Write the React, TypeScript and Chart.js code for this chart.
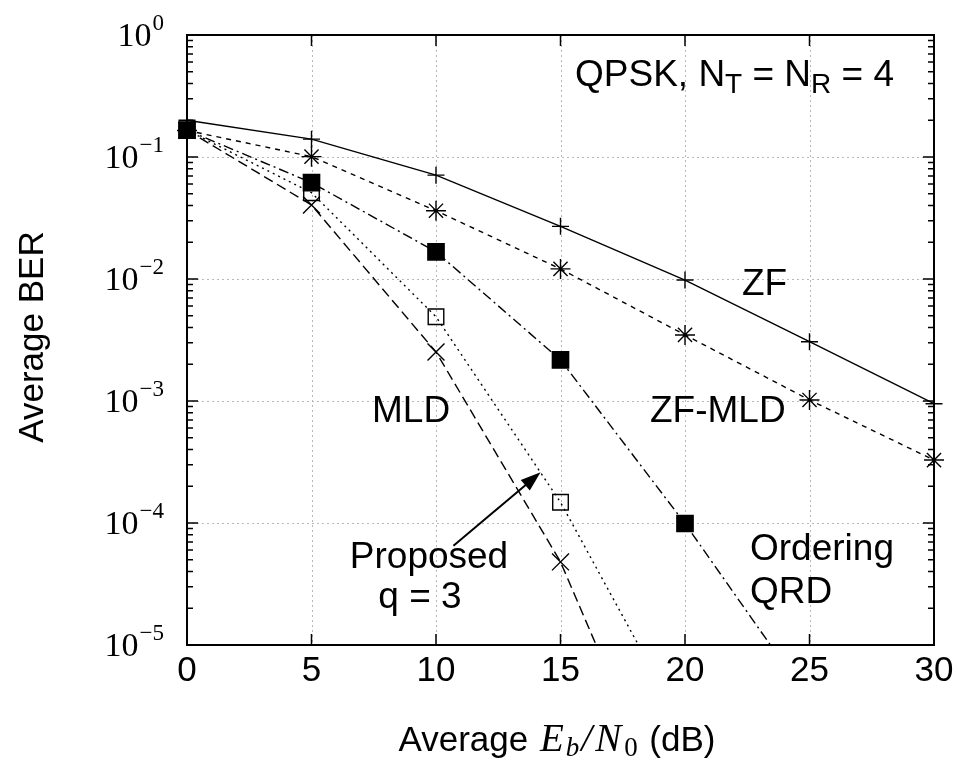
import React, { useEffect, useRef } from "react";
import { Chart, registerables } from "chart.js";

Chart.register(...registerables);

// ---------------- data ----------------
const ebN0 = [0, 5, 10, 15, 20, 25, 30];
const berZF = [0.2, 0.14, 0.071, 0.027, 0.0098, 0.00306, 0.00095];
const berZFMLD = [0.165, 0.1007, 0.0363, 0.0121, 0.00348, 0.00102, 0.000328];
const berOrderingQRD = [0.166, 0.0616, 0.0167, 0.00217, 0.000099, 0.0000035];
const berProposedQ3 = [0.166, 0.051, 0.0049, 0.000148, 0.000002];
const berMLD = [0.166, 0.0404, 0.00252, 0.000048, 0.0000002];

const xTickValues = [0, 5, 10, 15, 20, 25, 30];
const xTickLabels = ["0", "5", "10", "15", "20", "25", "30"];
const yTickExponents = [0, -1, -2, -3, -4, -5];
const yMinorFactors = [2, 3, 4, 5, 6, 7, 8, 9];

const SANS = '"Liberation Sans", Arial, Helvetica, sans-serif';
const SERIF = '"Liberation Serif", "Times New Roman", serif';

function toPoints(vals: number[]) {
  return vals.map((v, i) => ({ x: ebN0[i], y: v }));
}

const gnuplotPlugin = {
  id: "gnuplotFrame",
  beforeDatasetsDraw(chart: any) {
    const { ctx, chartArea: a, scales } = chart;
    const x = scales.x;
    const y = scales.y;
    ctx.save();
    // dotted grid
    ctx.strokeStyle = "#b8b8b8";
    ctx.lineWidth = 1;
    ctx.setLineDash([2, 3]);
    ctx.beginPath();
    for (const t of xTickValues) {
      if (t <= x.min || t >= x.max) continue;
      const px = Math.round(x.getPixelForValue(t)) + 0.5;
      ctx.moveTo(px, a.top);
      ctx.lineTo(px, a.bottom);
    }
    for (const e of yTickExponents) {
      const v = Math.pow(10, e);
      if (v <= y.min * 1.001 || v >= y.max * 0.999) continue;
      const py = Math.round(y.getPixelForValue(v)) + 0.5;
      ctx.moveTo(a.left, py);
      ctx.lineTo(a.right, py);
    }
    ctx.stroke();
    ctx.setLineDash([]);

    // ticks (inward, mirrored)
    ctx.strokeStyle = "#000";
    ctx.lineWidth = 1.5;
    ctx.beginPath();
    for (const t of xTickValues) {
      const px = x.getPixelForValue(t);
      ctx.moveTo(px, a.bottom);
      ctx.lineTo(px, a.bottom - 11);
      ctx.moveTo(px, a.top);
      ctx.lineTo(px, a.top + 11);
    }
    for (const e of yTickExponents) {
      const py = y.getPixelForValue(Math.pow(10, e));
      ctx.moveTo(a.left, py);
      ctx.lineTo(a.left + 11, py);
      ctx.moveTo(a.right, py);
      ctx.lineTo(a.right - 11, py);
      if (e === yTickExponents[yTickExponents.length - 1]) continue;
      for (const m of yMinorFactors) {
        const v = m * Math.pow(10, e - 1);
        const pm = y.getPixelForValue(v);
        ctx.moveTo(a.left, pm);
        ctx.lineTo(a.left + 6, pm);
        ctx.moveTo(a.right, pm);
        ctx.lineTo(a.right - 6, pm);
      }
    }
    ctx.stroke();

    // frame
    ctx.lineWidth = 2;
    ctx.strokeRect(a.left, a.top, a.right - a.left, a.bottom - a.top);
    ctx.restore();
  },
  afterDraw(chart: any) {
    const { ctx, chartArea: a, scales } = chart;
    const x = scales.x;
    const y = scales.y;
    ctx.save();
    ctx.fillStyle = "#000";
    ctx.textBaseline = "alphabetic";

    // y tick labels 10^n
    for (const e of yTickExponents) {
      const py = y.getPixelForValue(Math.pow(10, e));
      const base = "10";
      const sup = e === 0 ? "0" : "\u2212" + String(-e);
      ctx.font = `34px ${SERIF}`;
      const wb = ctx.measureText(base).width;
      ctx.font = `23px ${SERIF}`;
      const ws = ctx.measureText(sup).width;
      const right = a.left - 23;
      const start = right - wb - ws - 1;
      ctx.textAlign = "left";
      ctx.font = `34px ${SERIF}`;
      ctx.fillText(base, start, py + 11);
      ctx.font = `23px ${SERIF}`;
      ctx.fillText(sup, start + wb + 1, py - 5);
    }

    // x tick labels
    ctx.font = `35px ${SANS}`;
    ctx.textAlign = "center";
    xTickValues.forEach((t, i) => {
      ctx.fillText(xTickLabels[i], x.getPixelForValue(t), a.bottom + 36);
    });

    // y axis title
    ctx.save();
    ctx.translate(43, 337);
    ctx.rotate(-Math.PI / 2);
    ctx.font = `35px ${SANS}`;
    ctx.textAlign = "center";
    ctx.fillText("Average BER", 0, 0);
    ctx.restore();

    // x axis title with math
    const pieces = [
      { t: "Average ", f: `35px ${SANS}`, dy: 0, gap: 2 },
      { t: "E", f: `italic 39px ${SERIF}`, dy: 0, gap: 2 },
      { t: "b", f: `italic 27px ${SERIF}`, dy: 5, gap: 2 },
      { t: "/", f: `italic 39px ${SERIF}`, dy: 0, gap: 3 },
      { t: "N", f: `italic 39px ${SERIF}`, dy: 0, gap: 3 },
      { t: "0", f: `27px ${SERIF}`, dy: 5, gap: 2 },
      { t: " (dB)", f: `35px ${SANS}`, dy: 0, gap: 0 },
    ];
    let total = 0;
    for (const p of pieces) {
      ctx.font = p.f;
      total += ctx.measureText(p.t).width + p.gap;
    }
    let cx = 557 - total / 2;
    ctx.textAlign = "left";
    for (const p of pieces) {
      ctx.font = p.f;
      ctx.fillText(p.t, cx, 751 + p.dy);
      cx += ctx.measureText(p.t).width + p.gap;
    }

    // annotations
    const F = `37px ${SANS}`;
    const FS = `28px ${SANS}`;
    const seq = [
      { t: "QPSK, N", f: F, dy: 0 },
      { t: "T", f: FS, dy: 7 },
      { t: " = N", f: F, dy: 0 },
      { t: "R", f: FS, dy: 7 },
      { t: " = 4", f: F, dy: 0 },
    ];
    let qx = 575;
    for (const p of seq) {
      ctx.font = p.f;
      ctx.fillText(p.t, qx, 86 + p.dy);
      qx += ctx.measureText(p.t).width;
    }
    ctx.font = F;
    ctx.fillText("ZF", 742, 295);
    ctx.fillText("ZF-MLD", 650, 422);
    ctx.fillText("MLD", 372, 422);
    ctx.fillText("Ordering", 750, 560);
    ctx.fillText("QRD", 750, 603);
    ctx.textAlign = "center";
    ctx.fillText("Proposed", 429, 568);
    ctx.fillText("q = 3", 420, 608);

    // arrow (data coordinates)
    const x0 = x.getPixelForValue(10.7);
    const y0 = y.getPixelForValue(6.5e-5);
    const x1 = x.getPixelForValue(14.2);
    const y1 = y.getPixelForValue(2.6e-4);
    const ang = Math.atan2(y1 - y0, x1 - x0);
    const hl = 20;
    const hw = 7;
    ctx.strokeStyle = "#000";
    ctx.lineWidth = 2;
    ctx.beginPath();
    ctx.moveTo(x0, y0);
    ctx.lineTo(x1 - Math.cos(ang) * hl * 0.8, y1 - Math.sin(ang) * hl * 0.8);
    ctx.stroke();
    ctx.beginPath();
    ctx.moveTo(x1, y1);
    ctx.lineTo(
      x1 - Math.cos(ang) * hl - Math.sin(ang) * hw,
      y1 - Math.sin(ang) * hl + Math.cos(ang) * hw
    );
    ctx.lineTo(
      x1 - Math.cos(ang) * hl + Math.sin(ang) * hw,
      y1 - Math.sin(ang) * hl - Math.cos(ang) * hw
    );
    ctx.closePath();
    ctx.fill();
    ctx.restore();
  },
};

export default function App() {
  const ref = useRef<HTMLCanvasElement | null>(null);
  useEffect(() => {
    if (!ref.current) return;
    const clip = { left: 20, right: 20, top: 20, bottom: 0 };
    const common = {
      borderColor: "#000",
      pointBorderColor: "#000",
      borderWidth: 1.4,
      pointBorderWidth: 1.4,
      tension: 0,
      fill: false,
      clip,
    };
    const chart = new Chart(ref.current, {
      type: "line",
      data: {
        datasets: [
          {
            ...common,
            label: "ZF",
            data: toPoints(berZF),
            pointStyle: "cross",
            pointRadius: 8.5,
            pointBackgroundColor: "#000",
          },
          {
            ...common,
            label: "ZF-MLD",
            data: toPoints(berZFMLD),
            borderDash: [5, 5],
            pointStyle: "star",
            pointRadius: 10,
            pointBackgroundColor: "#000",
          },
          {
            ...common,
            label: "Ordering QRD",
            data: toPoints(berOrderingQRD),
            borderDash: [10, 4, 2, 4],
            pointStyle: "rect",
            pointRadius: 11.5,
            pointBackgroundColor: "#000",
          },
          {
            ...common,
            label: "Proposed q = 3",
            data: toPoints(berProposedQ3),
            borderDash: [2, 4],
            pointStyle: "rect",
            pointRadius: 11,
            pointBackgroundColor: "rgba(0,0,0,0)",
          },
          {
            ...common,
            label: "MLD",
            data: toPoints(berMLD),
            borderDash: [10, 5],
            pointStyle: "crossRot",
            pointRadius: 12,
            pointBackgroundColor: "#000",
          },
        ] as any,
      },
      options: {
        animation: false,
        responsive: false,
        devicePixelRatio: 1,
        layout: { padding: { left: 187, right: 24, top: 35, bottom: 115 } },
        plugins: { legend: { display: false }, tooltip: { enabled: false } },
        scales: {
          x: { type: "linear", min: 0, max: 30, display: false },
          y: { type: "logarithmic", min: 1e-5, max: 1, display: false },
        },
      } as any,
      plugins: [gnuplotPlugin],
    });
    return () => chart.destroy();
  }, []);
  return (
    <div style={{ position: "absolute", left: 0, top: 0, width: 958, height: 760, background: "#fff" }}>
      <canvas ref={ref} width={958} height={760} style={{ display: "block" }} />
    </div>
  );
}
